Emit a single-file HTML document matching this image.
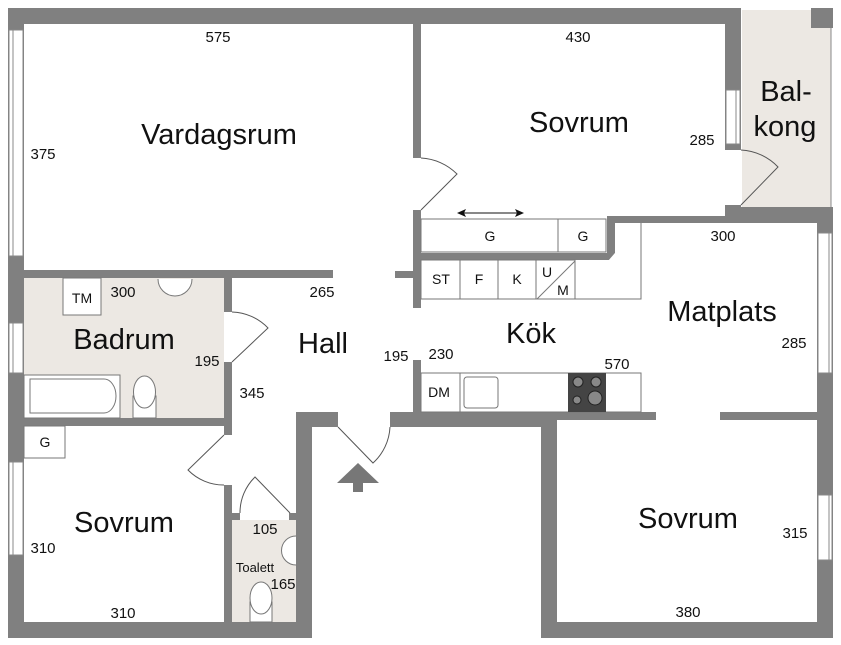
<!DOCTYPE html>
<html><head><meta charset="utf-8"><style>
html,body{margin:0;padding:0;background:#fff}
svg{display:block}
text{font-family:"Liberation Sans",Arial,sans-serif;fill:#111}
.n{font-size:15px;text-anchor:middle}
.r{font-size:29px;text-anchor:middle}
.s{font-size:14px;text-anchor:middle}
</style></head><body>
<svg width="841" height="645" viewBox="0 0 841 645" xmlns="http://www.w3.org/2000/svg">
<rect width="841" height="645" fill="#fff"/>
<rect x="742" y="10" width="89" height="197" fill="#ece8e3"/>
<rect x="24" y="278" width="200" height="140" fill="#ece8e3"/>
<rect x="232" y="520" width="64" height="102" fill="#ece8e3"/>
<g fill="#808080">
<rect x="8" y="8" width="733" height="16"/>
<rect x="811" y="8" width="22" height="20"/>
<rect x="8" y="8" width="16" height="630"/>
<rect x="725" y="8" width="16" height="142"/>
<rect x="725" y="205" width="16" height="18"/>
<rect x="725" y="207" width="108" height="16"/>
<rect x="607" y="216" width="118" height="7"/>
<rect x="607" y="216" width="8" height="44"/>
<rect x="817" y="207" width="16" height="431"/>
<rect x="413" y="24" width="8" height="134"/>
<rect x="413" y="210" width="8" height="98"/>
<rect x="413" y="253" width="202" height="7"/>
<rect x="395" y="271" width="18" height="7"/>
<rect x="413" y="360" width="8" height="60"/>
<rect x="8" y="270" width="325" height="8"/>
<rect x="224" y="278" width="8" height="34"/>
<rect x="224" y="362" width="8" height="73"/>
<rect x="224" y="485" width="8" height="145"/>
<rect x="8" y="418" width="224" height="8"/>
<rect x="8" y="622" width="304" height="16"/>
<rect x="296" y="412" width="16" height="226"/>
<rect x="296" y="412" width="42" height="15"/>
<rect x="232" y="513" width="8" height="7"/>
<rect x="289" y="513" width="8" height="7"/>
<rect x="390" y="412" width="266" height="8"/>
<rect x="390" y="412" width="167" height="15"/>
<rect x="720" y="412" width="97" height="8"/>
<rect x="541" y="412" width="16" height="226"/>
<rect x="541" y="622" width="292" height="16"/>
</g>
<g fill="#fff" stroke="#888" stroke-width="1">
<rect x="9" y="30" width="14" height="226"/>
<rect x="9" y="323" width="14" height="50"/>
<rect x="9" y="462" width="14" height="93"/>
<rect x="726" y="90" width="14" height="54"/>
<rect x="818" y="233" width="14" height="140"/>
<rect x="818" y="495" width="14" height="65"/>
</g>
<g stroke="#888" stroke-width="1">
<line x1="13" y1="30" x2="13" y2="256"/><line x1="13" y1="323" x2="13" y2="373"/><line x1="13" y1="462" x2="13" y2="555"/>
<line x1="736" y1="90" x2="736" y2="144"/><line x1="829" y1="233" x2="829" y2="373"/><line x1="829" y1="495" x2="829" y2="560"/>
<line x1="831" y1="28" x2="831" y2="207"/>
</g>
<g fill="none" stroke="#555" stroke-width="1">
<path d="M421,158 A55,55 0 0 1 457,174 L421,210"/>
<path d="M741,150 A55,55 0 0 1 778,167 L741,205"/>
<path d="M232,312 A52,52 0 0 1 268,328 L232,362"/>
<path d="M224,435 L188,470 A50,50 0 0 0 224,485"/>
<path d="M290,513 L255,477 A50,50 0 0 0 240,513"/>
<path d="M338,427 L373,463 A52,52 0 0 0 390,427"/>
</g>
<path d="M358,463 L379,483 L363,483 L363,492 L353,492 L353,483 L337,483 Z" fill="#777"/>
<g fill="#fff" stroke="#777" stroke-width="1">
<rect x="421" y="219" width="185" height="33"/>
<line x1="558" y1="219" x2="558" y2="252"/>
<rect x="421" y="260" width="154" height="39"/>
<line x1="460" y1="260" x2="460" y2="299"/><line x1="498" y1="260" x2="498" y2="299"/><line x1="536" y1="260" x2="536" y2="299"/>
<line x1="537" y1="299" x2="575" y2="261"/>
<polyline points="575,299 641,299 641,223"/>
<rect x="421" y="373" width="220" height="39"/>
<line x1="460" y1="373" x2="460" y2="412"/>
<rect x="464" y="377" width="34" height="31" rx="3"/>
<rect x="63" y="278" width="38" height="37"/>
<rect x="24" y="426" width="41" height="32"/>
<rect x="24" y="375" width="96" height="43"/>
<path d="M30,379 H104 A12,17 0 0 1 104,413 H30 Z"/>
<path d="M158,279 A17,17 0 0 0 192,279"/>
<rect x="133" y="396" width="23" height="22"/>
<ellipse cx="144.5" cy="392" rx="11" ry="16"/>
<path d="M296,536 A14,14 0 0 0 296,565"/>
<rect x="250" y="602" width="22" height="20"/>
<ellipse cx="261" cy="598" rx="11" ry="16"/>
</g>
<line x1="460" y1="213" x2="521" y2="213" stroke="#111" stroke-width="1"/>
<path d="M457,213 L466,209 L464,213 L466,217Z M524,213 L515,209 L517,213 L515,217Z" fill="#111"/>
<rect x="568" y="373" width="38" height="39" fill="#444"/>
<g fill="#888" stroke="#222"><circle cx="578" cy="382" r="5"/><circle cx="596" cy="382" r="5"/><circle cx="577" cy="400" r="4"/><circle cx="595" cy="398" r="7"/></g>
<text class="n" x="218" y="42">575</text>
<text class="n" x="43" y="159">375</text>
<text class="r" x="219" y="144">Vardagsrum</text>
<text class="n" x="578" y="42">430</text>
<text class="r" x="579" y="132">Sovrum</text>
<text class="n" x="702" y="145">285</text>
<text class="r" x="786" y="101">Bal-</text>
<text class="r" x="785" y="136">kong</text>
<text class="s" x="490" y="241">G</text>
<text class="s" x="583" y="241">G</text>
<text class="n" x="723" y="241">300</text>
<text class="s" x="441" y="284">ST</text>
<text class="s" x="479" y="284">F</text>
<text class="s" x="517" y="284">K</text>
<text class="s" x="547" y="277">U</text>
<text class="s" x="563" y="295">M</text>
<text class="r" x="722" y="321">Matplats</text>
<text class="n" x="794" y="348">285</text>
<text class="r" x="531" y="343">Kök</text>
<text class="n" x="441" y="359">230</text>
<text class="n" x="617" y="369">570</text>
<text class="n" x="396" y="361">195</text>
<text class="s" x="439" y="397">DM</text>
<text class="r" x="323" y="353">Hall</text>
<text class="n" x="322" y="297">265</text>
<text class="n" x="123" y="297">300</text>
<text class="s" x="82" y="303">TM</text>
<text class="r" x="124" y="349">Badrum</text>
<text class="n" x="207" y="366">195</text>
<text class="n" x="252" y="398">345</text>
<text class="s" x="45" y="447">G</text>
<text class="r" x="124" y="532">Sovrum</text>
<text class="n" x="43" y="553">310</text>
<text class="n" x="123" y="618">310</text>
<text class="n" x="265" y="534">105</text>
<text x="255" y="572" style="font-size:13px;text-anchor:middle">Toalett</text>
<text class="n" x="283" y="589">165</text>
<text class="r" x="688" y="528">Sovrum</text>
<text class="n" x="795" y="538">315</text>
<text class="n" x="688" y="617">380</text>
</svg>
</body></html>
